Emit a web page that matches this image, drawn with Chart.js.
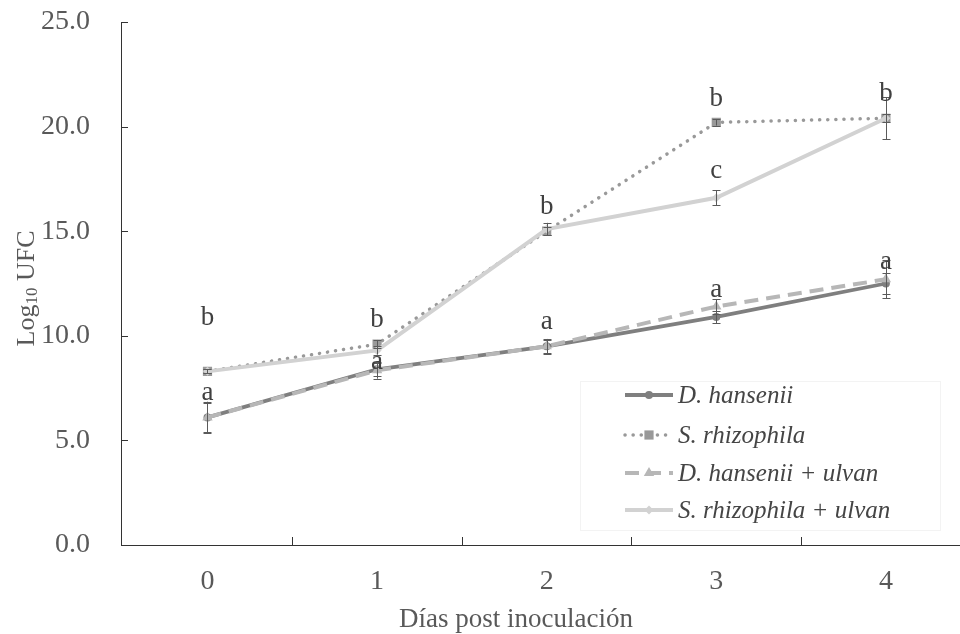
<!DOCTYPE html>
<html><head><meta charset="utf-8">
<script src="https://cdn.jsdelivr.net/npm/chart.js@4/dist/chart.umd.min.js"></script>
<style>html,body{margin:0;padding:0;background:#fff;overflow:hidden;width:960px;height:634px}#wrap{width:967px;height:634px;position:relative}</style>
</head><body><div id="wrap"><canvas id="c"></canvas></div>
<script>
// ---- data ----
const days = [0, 1, 2, 3, 4];
const dayLabels = ['0', '1', '2', '3', '4'];
const yTicks = [0, 5, 10, 15, 20, 25];
const seriesNames = ['D. hansenii', 'S. rhizophila', 'D. hansenii + ulvan', 'S. rhizophila + ulvan'];
const dHansenii = [6.1, 8.4, 9.5, 10.9, 12.5];
const sRhizophila = [8.3, 9.6, 15.0, 20.2, 20.4];
const dHanseniiUlvan = [6.1, 8.35, 9.5, 11.4, 12.7];
const sRhizophilaUlvan = [8.3, 9.3, 15.1, 16.6, 20.4];
const errDH = [0.75, 0.3, 0.3, 0.3, 0.5];
const errSR = [0.1, 0.2, 0.2, 0.15, 0.2];
const errDHU = [0.7, 0.4, 0.35, 0.35, 0.9];
const errSRU = [0.1, 0.2, 0.3, 0.35, 1.0];
const lettersDH = ['', '', '', '', ''];
const lettersSR = ['b', 'b', 'b', 'b', 'b'];
const lettersDHU = ['a', 'a', 'a', 'a', 'a'];
const lettersSRU = ['', '', '', 'c', ''];
const xTitle = 'Días post inoculación';

// ---- styling ----
const SERIF = "'Liberation Serif', 'Times New Roman', serif";
const TEXT = '#595959';
const toPts = arr => days.map((d, i) => ({ x: d, y: arr[i] }));
const styles = [
  { color: '#7f7f7f', width: 3.8, dash: [], cap: 'butt', point: 'circle', r: 4, order: 4 },
  { color: '#999999', width: 3.5, dash: [0.1, 8], cap: 'round', point: 'rect', r: 6.5, order: 3 },
  { color: '#b7b7b7', width: 4, dash: [14, 8], cap: 'butt', point: 'triangle', r: 6, order: 2 },
  { color: '#d2d2d2', width: 4, dash: [], cap: 'butt', point: 'rectRot', r: 4.5, order: 1 }
];
const seriesData = [dHansenii, sRhizophila, dHanseniiUlvan, sRhizophilaUlvan];
const seriesErr = [errDH, errSR, errDHU, errSRU];
const seriesLetters = [lettersDH, lettersSR, lettersDHU, lettersSRU];
// letter lift above point (px), default and overrides
const letterLift = (s, i) => {
  const o = { '1-0': 53, '2-1': 8, '2-3': 17, '2-4': 17, '3-3': 27 };
  return o[s + '-' + i] ?? 24;
};

const datasets = seriesNames.map((name, k) => ({
  label: name,
  data: toPts(seriesData[k]),
  borderColor: styles[k].color,
  backgroundColor: styles[k].color,
  borderWidth: styles[k].width,
  borderDash: styles[k].dash,
  borderCapStyle: styles[k].cap,
  pointStyle: styles[k].point,
  pointRadius: styles[k].r,
  pointBorderWidth: 0,
  pointBackgroundColor: styles[k].color,
  tension: 0,
  order: styles[k].order,
  errors: seriesErr[k],
  letters: seriesLetters[k]
}));

function drawMarker(ctx, style, r, x, y) {
  ctx.beginPath();
  if (style === 'circle') { ctx.arc(x, y, r, 0, Math.PI * 2); }
  else if (style === 'rect') { const s = r * Math.SQRT1_2; ctx.rect(x - s, y - s, 2 * s, 2 * s); }
  else if (style === 'triangle') {
    ctx.moveTo(x, y - r); ctx.lineTo(x + r * 0.866, y + r * 0.5); ctx.lineTo(x - r * 0.866, y + r * 0.5); ctx.closePath();
  } else if (style === 'rectRot') {
    ctx.moveTo(x, y - r); ctx.lineTo(x + r, y); ctx.lineTo(x, y + r); ctx.lineTo(x - r, y); ctx.closePath();
  }
  ctx.fill();
}

const extras = {
  id: 'extras',
  afterDatasetsDraw(chart) {
    const ctx = chart.ctx, xs = chart.scales.x, ys = chart.scales.y;
    ctx.save();
    // error bars
    ctx.strokeStyle = '#5a5a5a'; ctx.lineWidth = 1;
    chart.data.datasets.forEach(ds => {
      ds.data.forEach((p, i) => {
        const e = ds.errors[i];
        const px = Math.round(xs.getPixelForValue(p.x)) + 0.5;
        const y1 = ys.getPixelForValue(p.y + e), y2 = ys.getPixelForValue(p.y - e);
        ctx.beginPath();
        ctx.moveTo(px, y1); ctx.lineTo(px, y2);
        ctx.moveTo(px - 4, Math.round(y1) + 0.5); ctx.lineTo(px + 4, Math.round(y1) + 0.5);
        ctx.moveTo(px - 4, Math.round(y2) + 0.5); ctx.lineTo(px + 4, Math.round(y2) + 0.5);
        ctx.stroke();
      });
    });
    // letters
    ctx.fillStyle = '#404040';
    ctx.font = '27px ' + SERIF;
    ctx.textAlign = 'center'; ctx.textBaseline = 'middle';
    chart.data.datasets.forEach((ds, s) => {
      ds.data.forEach((p, i) => {
        const t = ds.letters[i];
        if (!t) return;
        ctx.fillText(t, xs.getPixelForValue(p.x), ys.getPixelForValue(p.y) - letterLift(s, i));
      });
    });
    ctx.restore();
  },
  afterDraw(chart) {
    const ctx = chart.ctx, xs = chart.scales.x, ys = chart.scales.y, ca = chart.chartArea;
    ctx.save();
    // inward tick marks
    ctx.strokeStyle = '#333'; ctx.lineWidth = 1;
    ctx.beginPath();
    days.slice(0, -1).forEach(d => {
      const px = Math.round(xs.getPixelForValue(d + 0.5)) + 0.5;
      ctx.moveTo(px, ca.bottom); ctx.lineTo(px, ca.bottom - 8);
    });
    yTicks.slice(1).forEach(v => {
      const py = Math.round(ys.getPixelForValue(v)) + 0.5;
      ctx.moveTo(ca.left, py); ctx.lineTo(ca.left + 7, py);
    });
    ctx.stroke();
    // x-axis title
    ctx.fillStyle = TEXT; ctx.textBaseline = 'middle'; ctx.textAlign = 'center';
    ctx.font = '27px ' + SERIF;
    ctx.fillText(xTitle, 516, 620);
    // y-axis title with subscript
    ctx.translate(27, (ca.top + ca.bottom) / 2 + 5);
    ctx.rotate(-Math.PI / 2);
    ctx.textAlign = 'left';
    const big = '26px ' + SERIF, small = '17px ' + SERIF;
    ctx.font = big; const w1 = ctx.measureText('Log').width, w3 = ctx.measureText(' UFC').width;
    ctx.font = small; const w2 = ctx.measureText('10').width;
    let x0 = -(w1 + w2 + w3) / 2;
    ctx.font = big; ctx.fillText('Log', x0, 0);
    ctx.font = small; ctx.fillText('10', x0 + w1, 6);
    ctx.font = big; ctx.fillText(' UFC', x0 + w1 + w2, 0);
    ctx.restore();
    // legend
    ctx.save();
    const lx = 580, ly = 381, lw = 360, lh = 149;
    ctx.strokeStyle = '#f3f3f3'; ctx.lineWidth = 1;
    ctx.strokeRect(lx + 0.5, ly + 0.5, lw, lh);
    const rows = [395, 435, 473, 510];
    chart.data.datasets.forEach((ds, k) => {
      const y = rows[k];
      ctx.strokeStyle = ds.borderColor; ctx.lineWidth = ds.borderWidth;
      ctx.setLineDash(ds.borderDash); ctx.lineCap = ds.borderCapStyle;
      ctx.beginPath(); ctx.moveTo(625, y); ctx.lineTo(673, y); ctx.stroke();
      ctx.setLineDash([]); ctx.lineCap = 'butt';
      ctx.fillStyle = ds.borderColor;
      drawMarker(ctx, ds.pointStyle, ds.pointRadius, 649, y);
      ctx.fillStyle = '#454545';
      ctx.font = 'italic 25px ' + SERIF;
      ctx.textBaseline = 'middle'; ctx.textAlign = 'left';
      ctx.fillText(ds.label, 678, y + 1);
    });
    ctx.restore();
  }
};

new Chart(document.getElementById('c'), {
  type: 'line',
  data: { datasets },
  plugins: [extras],
  options: {
    responsive: true, maintainAspectRatio: false, animation: false,
    layout: { padding: { top: 22, right: 0, left: 0, bottom: 0 } },
    plugins: { legend: { display: false }, tooltip: { enabled: false } },
    scales: {
      x: {
        type: 'linear', min: -0.51, max: 4.44,
        afterBuildTicks: s => { s.ticks = days.map(v => ({ value: v })); },
        afterFit: s => { s.height = 89; s.paddingLeft = 0; s.paddingRight = 0; },
        grid: { display: false, drawTicks: false },
        border: { display: true, color: '#333', width: 1 },
        ticks: { padding: 20, color: TEXT, font: { family: SERIF, size: 28 }, callback: v => dayLabels[days.indexOf(v)] },
        title: { display: false }
      },
      y: {
        min: 0, max: 25,
        afterBuildTicks: s => { s.ticks = yTicks.map(v => ({ value: v })); },
        afterFit: s => { s.width = 121; s.paddingTop = 0; s.paddingBottom = 0; },
        grid: { display: false, drawTicks: false },
        border: { display: true, color: '#333', width: 1 },
        ticks: { padding: 31, color: TEXT, font: { family: SERIF, size: 28 }, callback: v => v.toFixed(1) }
      }
    }
  }
});
</script></body></html>
